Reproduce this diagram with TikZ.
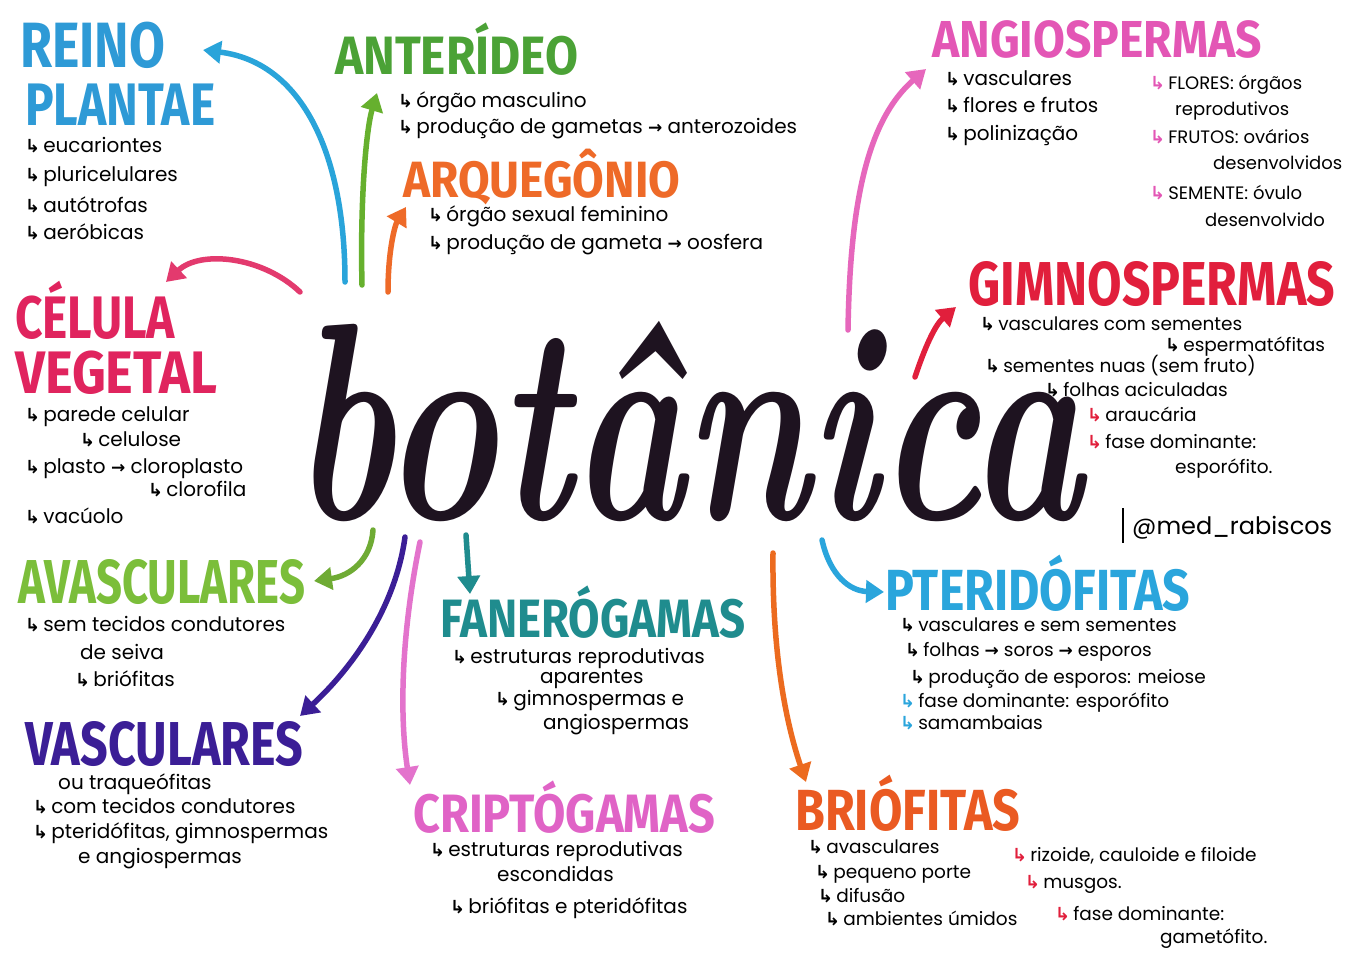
\documentclass[tikz,border=0pt]{standalone}
\usepackage{fontspec}
\usepackage{graphicx}
\usetikzlibrary{arrows.meta}
\newfontfamily\bodyf{Poppins}
\newfontfamily\symf{DejaVu Sans}
\newfontfamily\ttlf{Fira Sans}
\definecolor{cReino}{HTML}{2E9AD6}
\definecolor{cAnt}{HTML}{4BA236}
\definecolor{cArq}{HTML}{EE6A28}
\definecolor{cAng}{HTML}{E356B5}
\definecolor{cGim}{HTML}{E11F3C}
\definecolor{cCel}{HTML}{E0245E}
\definecolor{cAvs}{HTML}{7BBE3A}
\definecolor{cVas}{HTML}{3B1E96}
\definecolor{cFan}{HTML}{1F8C8E}
\definecolor{cCri}{HTML}{E063C6}
\definecolor{cPte}{HTML}{2AA5DC}
\definecolor{cBri}{HTML}{EA5A22}
\definecolor{cInk}{HTML}{1E1320}
\newcommand{\bul}[1][black]{\textcolor{#1}{\symf\bfseries\fontsize{18}{18}\selectfont ↳}\hspace{3pt}}
\newcommand{\rarr}{{\symf\bfseries\fontsize{17}{17}\selectfont →}}
\newcommand{\TT}[3]{\resizebox{#2pt}{\height}{\fontsize{#1}{#1}\selectfont #3}}
\tikzset{
  ttl/.style={anchor=base west, inner sep=0, font=\ttlf\bfseries},
  ln/.style={anchor=base west, inner sep=0, font=\bodyf\fontsize{20}{20}\selectfont},
  sm/.style={ln, font=\bodyf\fontsize{18.5}{18.5}\selectfont},
  conn/.style={line width=5.5pt, line cap=round, -{Triangle[width=22pt,length=18pt]}}
}
\begin{document}
\begin{tikzpicture}[x=1pt,y=-1pt]
\useasboundingbox[fill=white] (0,0) rectangle (1357,960);

% central word
\node[anchor=base west, inner sep=0, text=cInk] (bot) at (292,519)
  {\resizebox{790pt}{198pt}{\bfseries\itshape botânica}};

% REINO PLANTAE
\node[ttl, text=cReino] (reino) at (20,68) {\TT{64}{145}{REINO}};
\node[ttl, text=cReino] (plantae) at (25,126) {\TT{60}{190}{PLANTAE}};
\node[ln] (r1) at (25,153) {\bul eucariontes};
\node[ln] (r2) at (25,182) {\bul pluricelulares};
\node[ln] (r3) at (25,212) {\bul autótrofas};
\node[ln] (r4) at (25,240) {\bul aeróbicas};

% ANTERIDEO
\node[ttl, text=cAnt] (ant) at (335,75) {\TT{54}{243}{ANTERÍDEO}};
\node[ln] (a1) at (398,108) {\bul órgão masculino};
\node[ln] (a2) at (398,134) {\bul produção de gametas \rarr\ anterozoides};

% ARQUEGONIO
\node[ttl, text=cArq] (arq) at (403,198) {\TT{51}{277}{ARQUEGÔNIO}};
\node[ln] (q1) at (428,222) {\bul órgão sexual feminino};
\node[ln] (q2) at (428,249) {\bul produção de gameta \rarr\ oosfera};

% ANGIOSPERMAS
\node[ttl, text=cAng] (ang) at (932,58) {\TT{52}{330}{ANGIOSPERMAS}};
\node[ln] (g1) at (945,86) {\bul vasculares};
\node[ln] (g2) at (945,113) {\bul flores e frutos};
\node[ln] (g3) at (945,141) {\bul polinização};
\node[ln, font=\bodyf\fontsize{18}{18}\selectfont] (g4) at (1150,90) {\bul[cAng]FLORES: órgãos};
\node[ln, font=\bodyf\fontsize{18}{18}\selectfont] (g5) at (1175,116) {reprodutivos};
\node[ln, font=\bodyf\fontsize{18}{18}\selectfont] (g6) at (1150,144) {\bul[cAng]FRUTOS: ovários};
\node[ln, font=\bodyf\fontsize{18}{18}\selectfont] (g7) at (1213,170) {desenvolvidos};
\node[ln, font=\bodyf\fontsize{18}{18}\selectfont] (g8) at (1150,200) {\bul[cAng]SEMENTE: óvulo};
\node[ln, font=\bodyf\fontsize{18}{18}\selectfont] (g9) at (1205,226) {desenvolvido};

% GIMNOSPERMAS
\node[ttl, text=cGim] (gim) at (968,305) {\TT{62}{367}{GIMNOSPERMAS}};
\node[sm] (m1) at (980,330) {\bul vasculares com sementes};
\node[sm] (m2) at (1165,351) {\bul espermatófitas};
\node[sm] (m3) at (985,372) {\bul sementes nuas (sem fruto)};
\node[sm] (m4) at (1045,396) {\bul folhas aciculadas};
\node[sm] (m5) at (1087,421) {\bul[cGim]araucária};
\node[sm] (m6) at (1087,448) {\bul[cGim]fase dominante:};
\node[sm] (m7) at (1175,473) {esporófito.};

% signature
\node[ln, font=\bodyf\fontsize{24}{24}\selectfont] (sig) at (1132,534) {@med\_rabiscos};
\coordinate (barT) at (1123,508);
\coordinate (barB) at (1123,543);
\draw[line width=1.6pt] (barT) -- (barB);

% CELULA VEGETAL
\node[ttl, text=cCel] (cel) at (15,338) {\TT{60}{160}{CÉLULA}};
\node[ttl, text=cCel] (veg) at (15,393) {\TT{60}{202}{VEGETAL}};
\node[ln] (c1) at (25,421) {\bul parede celular};
\node[ln] (c2) at (80,446) {\bul celulose};
\node[ln] (c3) at (25,473) {\bul plasto \rarr\ cloroplasto};
\node[ln] (c4) at (148,496) {\bul clorofila};
\node[ln] (c5) at (25,523) {\bul vacúolo};

% AVASCULARES
\node[ttl, text=cAvs] (avs) at (18,603) {\TT{62}{287}{AVASCULARES}};
\node[ln] (v1) at (25,631) {\bul sem tecidos condutores};
\node[ln] (v2) at (80,659) {de seiva};
\node[ln] (v3) at (75,686) {\bul briófitas};

% VASCULARES
\node[ttl, text=cVas] (vas) at (25,765) {\TT{62}{278}{VASCULARES}};
\node[ln] (w1) at (58,789) {ou traqueófitas};
\node[ln] (w2) at (33,813) {\bul com tecidos condutores};
\node[ln] (w3) at (33,838) {\bul pteridófitas, gimnospermas};
\node[ln] (w4) at (78,863) {e angiospermas};

% FANEROGAMAS
\node[ttl, text=cFan] (fan) at (440,637) {\TT{54}{305}{FANERÓGAMAS}};
\node[ln] (f1) at (452,663) {\bul estruturas reprodutivas};
\node[ln] (f2) at (540,683) {aparentes};
\node[ln] (f3) at (495,705) {\bul gimnospermas e};
\node[ln] (f4) at (543,729) {angiospermas};

% CRIPTOGAMAS
\node[ttl, text=cCri] (cri) at (413,832) {\TT{54}{302}{CRIPTÓGAMAS}};
\node[ln] (k1) at (430,856) {\bul estruturas reprodutivas};
\node[ln] (k2) at (497,881) {escondidas};
\node[ln] (k3) at (450,913) {\bul briófitas e pteridófitas};

% PTERIDOFITAS
\node[ttl, text=cPte] (pte) at (885,610) {\TT{58}{305}{PTERIDÓFITAS}};
\node[sm] (p1) at (900,631) {\bul vasculares e sem sementes};
\node[sm] (p2) at (905,656) {\bul folhas \rarr\ soros \rarr\ esporos};
\node[sm] (p3) at (910,683) {\bul produção de esporos: meiose};
\node[sm] (p4) at (900,707) {\bul[cPte]fase dominante: esporófito};
\node[sm] (p5) at (900,729) {\bul[cPte]samambaias};

% BRIOFITAS
\node[ttl, text=cBri] (bri) at (795,830) {\TT{58}{225}{BRIÓFITAS}};
\node[sm] (b1) at (808,853) {\bul avasculares};
\node[sm] (b2) at (815,878) {\bul pequeno porte};
\node[sm] (b3) at (818,902) {\bul difusão};
\node[sm] (b4) at (825,925) {\bul ambientes úmidos};
\node[sm] (b5) at (1012,861) {\bul[cGim]rizoide, cauloide e filoide};
\node[sm] (b6) at (1025,888) {\bul[cGim]musgos.};
\node[sm] (b7) at (1055,920) {\bul[cGim]fase dominante:};
\node[sm] (b8) at (1160,943) {gametófito.};

% connector endpoints
\coordinate (sReino) at (345,282);  \coordinate (eReino) at (203,50);
\coordinate (sAnt) at (362,285);    \coordinate (eAnt) at (377,93);
\coordinate (sArq) at (388,292);    \coordinate (eArq) at (406,207);
\coordinate (sCel) at (300,292);    \coordinate (eCel) at (166,282);
\coordinate (sAvs) at (373,530);    \coordinate (eAvs) at (314,581);
\coordinate (sVas) at (405,537);    \coordinate (eVas) at (300,716);
\coordinate (sCri) at (420,542);    \coordinate (eCri) at (410,785);
\coordinate (sFan) at (466,535);    \coordinate (eFan) at (470,594);
\coordinate (sBri) at (773,553);    \coordinate (eBri) at (806,782);
\coordinate (sPte) at (822,540);    \coordinate (ePte) at (884,592);
\coordinate (sAng) at (848,330);    \coordinate (eAng) at (926,69);
\coordinate (sGim) at (915,377);    \coordinate (eGim) at (956,307);

\draw[conn, draw=cReino!90!cyan] (sReino) .. controls (345,150) and (300,62) .. (eReino);
\draw[conn, draw=cAnt!85!yellow] (sAnt) .. controls (360,200) and (366,130) .. (eAnt);
\draw[conn, draw=cArq] (sArq) .. controls (388,250) and (395,225) .. (eArq);
\draw[conn, draw=cCel!90!white] (sCel) .. controls (262,256) and (200,250) .. (eCel);
\draw[conn, draw=cAvs!90!black] (sAvs) .. controls (371,560) and (350,576) .. (eAvs);
\draw[conn, draw=cVas] (sVas) .. controls (395,610) and (350,670) .. (eVas);
\draw[conn, draw=cCri!90!white] (sCri) .. controls (400,640) and (400,720) .. (eCri);
\draw[conn, draw=cFan] (sFan) -- (eFan);
\draw[conn, draw=cBri!90!yellow] (sBri) .. controls (772,650) and (785,720) .. (eBri);
\draw[conn, draw=cPte] (sPte) .. controls (830,576) and (850,591) .. (ePte);
\draw[conn, draw=cAng!90!white] (sAng) .. controls (850,200) and (868,120) .. (eAng);
\draw[conn, draw=cGim] (sGim) .. controls (925,347) and (935,325) .. (eGim);
\end{tikzpicture}
\end{document}
